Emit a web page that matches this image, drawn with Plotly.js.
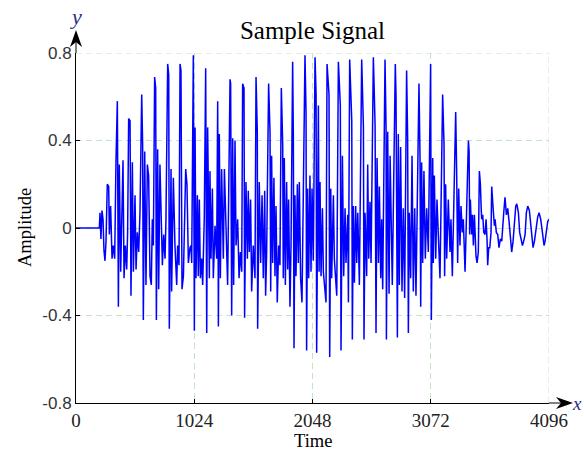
<!DOCTYPE html>
<html>
<head>
<meta charset="utf-8">
<script src="https://cdn.plot.ly/plotly-3.0.1.min.js"></script>
<style>html,body{margin:0;padding:0;background:#fff}#chart{width:584px;height:451px}</style>
</head>
<body>
<div id="chart"></div>
<script>
// Sample index (Time) and amplitude
const time = [0,202,208,216,225,234,242,251,260,271,283,289,300,312,323,335,346,358,367,375,387,398,407,416,427,439,447,456,468,476,488,497,511,520,531,543,554,569,577,583,595,606,618,629,641,652,661,670,681,690,696,707,716,727,739,748,759,771,779,794,803,808,
823,828,843,857,872,880,892,901,909,918,930,950,961,973,987,996,1002,1016,1025,1031,1039,1051,1059,1068,1077,1088,1097,1111,1123,1132,1140,1146,1155,1160,1169,1181,1189,1204,1218,1227,1233,1241,1250,1261,1276,1285,1296,1305,1313,1334,1339,1348,1357,1365,1377,1386,1400,1412,1423,1435,
1443,1455,1460,1472,1484,1492,1501,1512,1521,1535,1550,1559,1570,1573,1587,1599,1611,1622,1634,1642,1651,1668,1680,1686,1694,1703,1714,1723,1732,1743,1755,1766,1778,1790,1795,1804,1813,1824,1833,1841,1853,1862,1876,1882,1888,1896,1905,1917,1925,1934,1945,1957,1969,1983,1992,1997,2006,2015,2026,2035,2044,2055,
2070,2079,2084,2099,2105,2113,2122,2134,2142,2157,2165,2174,2191,2197,2206,2214,2229,2237,2249,2258,2272,2289,2295,2307,2318,2330,2338,2353,2359,2370,2388,2393,2402,2411,2422,2431,2440,2454,2474,2489,2494,2503,2517,2526,2535,2546,2555,2575,2590,2598,2607,2619,2627,2639,2647,2656,2676,2685,2688,2699,2711,2720,
2739,2757,2765,2771,2783,2791,2800,2811,2823,2834,2846,2863,2872,2878,2886,2898,2910,2921,2933,2944,2970,2979,2985,2993,3002,3013,3025,3037,3051,3071,3077,3089,3094,3103,3115,3126,3140,3152,3175,3187,3192,3201,3210,3224,3239,3247,3259,3288,3296,3305,3314,3325,3334,3345,3354,3369,
3398,3404,3409,3415,3421,3427,3433,3441,3450,3456,3464,3473,3484,3493,3502,3508,3513,3522,3531,3542,3551,3560,3565,3574,3583,3594,3600,3612,3623,3629,3640,3652,3663,3675,3687,3704,3715,3727,3739,3750,3762,3773,3785,3796,3808,3817,3831,3842,3854,3866,3877,3889,3900,3912,3926,3938,3946,3958,3970,3984,3998,4010,4024,4039,4053,4062,4073,4085,4096];
const amplitude = [0,0,0.07,-0.05,0.08,0.04,-0.10,-0.15,-0.06,0.20,0.19,-0.03,0.10,-0.14,-0.08,-0.14,0.30,0.58,-0.36,0.29,-0.20,0.18,0.31,-0.23,-0.08,-0.19,-0.02,0.50,0.49,-0.31,0.30,-0.20,0.15,-0.19,-0.02,-0.11,0.07,0.61,0.38,-0.42,0.35,-0.26,0.29,0.24,-0.22,-0.26,0.04,-0.08,0.69,0.64,-0.42,0.36,-0.28,0.29,0.04,-0.17,-0.03,-0.14,0.04,0.75,0.70,-0.46,
0.27,-0.29,0.23,-0.08,-0.26,-0.08,-0.17,0.75,0.72,-0.28,-0.22,0.27,0.20,-0.16,-0.09,-0.08,-0.16,0.79,-0.47,0.46,-0.23,0.15,-0.22,0.13,-0.23,-0.14,-0.26,0.05,0.73,-0.48,0.46,0.26,-0.23,0.26,-0.14,0.18,-0.23,0.01,-0.14,0.58,-0.45,0.43,-0.23,0.27,-0.14,0.27,0.07,-0.14,-0.26,0.68,0.66,-0.40,0.41,-0.26,0.40,-0.08,0.04,-0.23,-0.11,-0.20,
0.66,0.64,-0.41,0.21,-0.14,0.17,-0.11,0.13,-0.29,-0.08,-0.23,0.69,0.44,-0.46,0.21,-0.16,0.15,-0.23,0.17,-0.31,-0.11,0.66,0.44,-0.29,0.33,-0.16,0.23,-0.22,0.10,-0.34,-0.08,-0.17,0.64,0.38,-0.23,0.32,-0.26,0.21,-0.19,0.13,-0.36,-0.08,0.76,0.43,-0.55,0.15,-0.22,0.20,-0.16,0.21,-0.23,-0.34,0.30,0.79,0.53,-0.56,0.18,-0.23,0.24,-0.20,0.18,-0.15,
0.78,0.61,-0.57,0.56,-0.20,0.21,-0.22,0.09,-0.20,-0.32,-0.34,0.75,0.61,-0.59,0.18,-0.23,0.15,-0.14,-0.26,-0.31,0.76,0.56,-0.56,0.33,-0.22,0.09,-0.16,0.06,-0.34,0.77,0.49,-0.51,0.10,-0.25,0.10,-0.16,0.07,-0.26,0.77,0.46,-0.51,0.07,-0.22,0.29,-0.14,0.12,-0.16,0.78,0.47,-0.48,0.32,-0.16,0.19,-0.23,0.04,-0.28,0.77,0.46,-0.51,0.44,-0.30,0.33,
-0.26,0.61,0.75,0.61,-0.50,0.43,-0.26,0.37,-0.29,0.09,-0.32,0.72,0.41,-0.48,0.07,-0.23,0.33,-0.29,0.09,-0.31,0.66,0.32,-0.36,0.30,-0.16,0.26,-0.14,0.09,-0.11,0.75,-0.42,0.32,-0.16,0.24,-0.14,0.13,-0.09,-0.23,0.61,0.38,-0.22,0.20,-0.14,0.13,-0.11,0.04,-0.22,0.53,0.27,-0.16,0.18,-0.08,0.10,-0.02,0.04,-0.20,
0.40,0.35,-0.03,0.13,0.04,-0.03,0.06,-0.08,0.06,-0.06,-0.13,-0.16,-0.11,0.26,0.20,0.10,0.04,0.06,-0.02,-0.03,0.04,-0.06,-0.17,-0.09,-0.09,-0.02,0.19,0.09,0.01,0.04,-0.02,-0.03,-0.09,-0.05,-0.06,0.07,0.14,0.06,0.09,0.03,-0.03,-0.11,-0.06,0.01,0.10,0.11,0.07,-0.02,-0.06,-0.08,-0.06,-0.03,0.07,0.10,0.08,0.01,-0.05,-0.09,-0.06,0.01,0.05,0.07,0.04,-0.02,-0.08,-0.06,-0.02,0.03,0.04];

const xTicks = [0, 1024, 2048, 3072, 4096];
const xTickText = ['0', '1024', '2048', '3072', '4096'];
const yTicks = [-0.8, -0.4, 0, 0.4, 0.8];
const yTickText = ['-0.8', '-0.4', '0', '0.4', '0.8'];

const serif = 'Liberation Serif, Times New Roman, serif';
const sans = 'Liberation Sans, Arial, sans-serif';
const gridColor = '#c4e2c4';
const gridDash = '6px,4px';

// paper-coordinate helpers for decorations (pixel offsets relative to plot area 473x350)
const PW = 473, PH = 350;
const px = v => v / PW, py = v => v / PH;

const trace = {
  x: time, y: amplitude, type: 'scatter', mode: 'lines',
  line: {color: '#0000ff', width: 1.5}, hoverinfo: 'skip'
};

const layout = {
  width: 584, height: 451,
  margin: {l: 76, r: 35, t: 53, b: 48},
  paper_bgcolor: '#ffffff', plot_bgcolor: '#ffffff',
  showlegend: false,
  title: {text: 'Sample Signal', font: {family: serif, size: 25, color: '#000'},
          x: 0.5, xref: 'paper', xanchor: 'center', y: 1 - 30/451, yref: 'container', yanchor: 'middle'},
  xaxis: {
    range: [0, 4096], tickmode: 'array', tickvals: xTicks, ticktext: xTickText,
    ticks: 'inside', ticklen: 4, tickwidth: 1, tickcolor: '#000',
    showline: true, linecolor: '#000', linewidth: 1,
    showgrid: true, gridcolor: gridColor, griddash: gridDash, gridwidth: 1,
    zeroline: false, tickfont: {family: serif, size: 19, color: '#222'},
    fixedrange: true
  },
  yaxis: {
    range: [-0.8, 0.8], tickmode: 'array', tickvals: yTicks, ticktext: yTickText,
    ticks: 'inside', ticklen: 4, tickwidth: 1, tickcolor: '#000',
    showline: true, linecolor: '#000', linewidth: 1,
    showgrid: true, gridcolor: gridColor, griddash: gridDash, gridwidth: 1,
    zeroline: false, tickfont: {family: sans, size: 17, color: '#333'},
    fixedrange: true
  },
  shapes: [
    {type: 'line', xref: 'x', yref: 'y', x0: 0, x1: 4096, y0: 0.8, y1: 0.8, layer: 'below',
     line: {color: gridColor, width: 1, dash: gridDash}},
    {type: 'line', xref: 'x', yref: 'y', x0: 4096, x1: 4096, y0: -0.8, y1: 0.8, layer: 'below',
     line: {color: gridColor, width: 1, dash: gridDash}},
    {type: 'line', xref: 'paper', yref: 'paper', x0: 0, x1: 0, y0: 1, y1: py(361), line: {color: '#000', width: 1}},
    {type: 'line', xref: 'paper', yref: 'paper', x0: 1, x1: px(485), y0: 0, y1: 0, line: {color: '#000', width: 1}},
    {type: 'path', xref: 'paper', yref: 'paper', fillcolor: '#000', line: {width: 0},
     path: `M 0 ${py(373)} L ${px(6)} ${py(356)} L 0 ${py(361)} L ${-px(6)} ${py(356)} Z`},
    {type: 'path', xref: 'paper', yref: 'paper', fillcolor: '#000', line: {width: 0},
     path: `M ${px(497)} 0 L ${px(480)} ${py(6)} L ${px(485)} 0 L ${px(480)} ${-py(6)} Z`}
  ],
  annotations: [
    {text: 'Time', xref: 'paper', yref: 'paper', x: 0.5, y: -py(38), xanchor: 'center', yanchor: 'middle',
     showarrow: false, font: {family: serif, size: 18.5, color: '#000'}},
    {text: 'Amplitude', xref: 'paper', yref: 'paper', x: -px(51), y: 0.5, xanchor: 'center', yanchor: 'middle',
     textangle: -90, showarrow: false, font: {family: serif, size: 18.5, color: '#000'}},
    {text: 'y', xref: 'paper', yref: 'paper', x: 0, y: 1 + py(37), xanchor: 'center', yanchor: 'middle',
     showarrow: false, font: {family: serif, size: 22, color: '#2b2b90', style: 'italic'}},
    {text: 'x', xref: 'paper', yref: 'paper', x: px(501), y: 0, xanchor: 'center', yanchor: 'middle',
     showarrow: false, font: {family: serif, size: 19, color: '#2b2b90', style: 'italic'}}
  ]
};

Plotly.newPlot('chart', [trace], layout, {displayModeBar: false, staticPlot: true});
</script>
</body>
</html>
